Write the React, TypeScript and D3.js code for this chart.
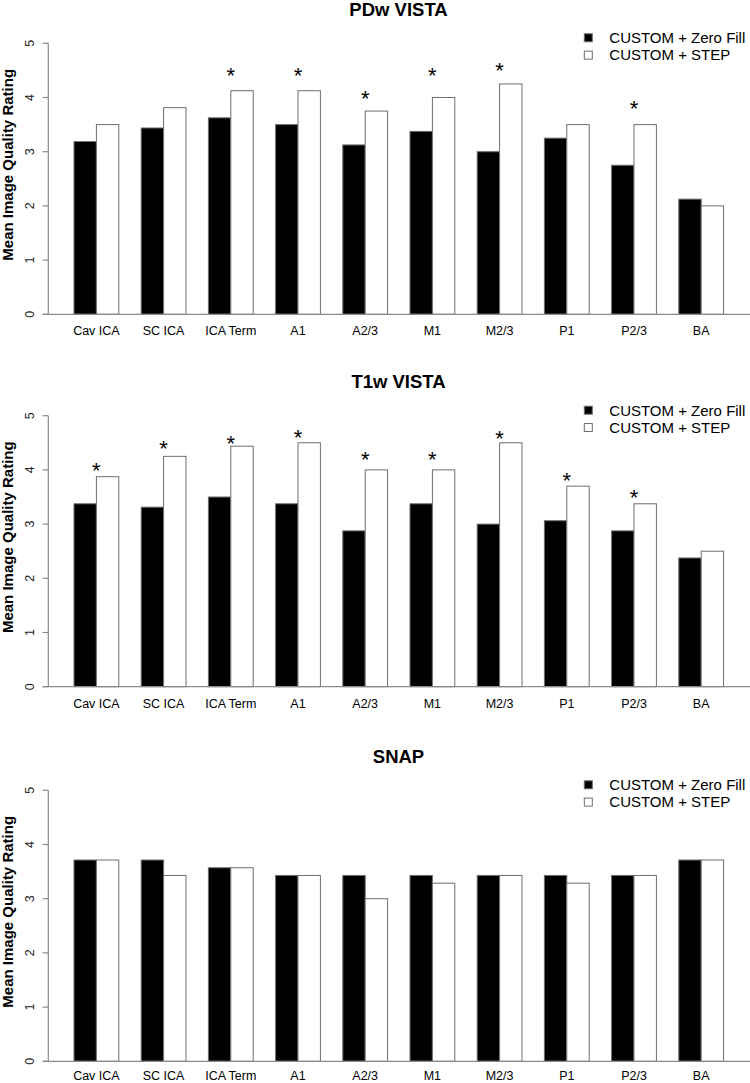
import React from "react";
import * as d3 from "d3";

const categories = ["Cav ICA", "SC ICA", "ICA Term", "A1", "A2/3", "M1", "M2/3", "P1", "P2/3", "BA"];
const seriesNames = ["CUSTOM + Zero Fill", "CUSTOM + STEP"];
const yTicks = [0, 1, 2, 3, 4, 5];

const panelTitles = ["PDw VISTA", "T1w VISTA", "SNAP"];

// PDw VISTA
const pdwZeroFill = [3.1875, 3.4375, 3.625, 3.5, 3.125, 3.375, 3.0, 3.25, 2.75, 2.125];
const pdwStep = [3.5, 3.8125, 4.125, 4.125, 3.75, 4.0, 4.25, 3.5, 3.5, 2.0];
const pdwStars = [null, null, 4.5, 4.49, 4.08, 4.49, 4.59, null, 3.89, null];

// T1w VISTA
const t1wZeroFill = [3.375, 3.3125, 3.5, 3.375, 2.875, 3.375, 3.0, 3.0625, 2.875, 2.375];
const t1wStep = [3.875, 4.25, 4.4375, 4.5, 4.0, 4.0, 4.5, 3.7, 3.375, 2.5];
const t1wStars = [4.09, 4.49, 4.58, 4.69, 4.29, 4.29, 4.68, 3.89, 3.58, null];

// SNAP
const snapZeroFill = [3.714, 3.714, 3.571, 3.429, 3.429, 3.429, 3.429, 3.429, 3.429, 3.714];
const snapStep = [3.714, 3.429, 3.571, 3.429, 3.0, 3.286, 3.429, 3.286, 3.429, 3.714];
const snapStars: (number | null)[] = [null, null, null, null, null, null, null, null, null, null];

const panels = [
  { title: panelTitles[0], zf: pdwZeroFill, st: pdwStep, stars: pdwStars, top: 43.3, bottom: 314.3 },
  { title: panelTitles[1], zf: t1wZeroFill, st: t1wStep, stars: t1wStars, top: 415.7, bottom: 686.7 },
  { title: panelTitles[2], zf: snapZeroFill, st: snapStep, stars: snapStars, top: 790.3, bottom: 1061.3 },
];

const FONT = "'Liberation Sans', Arial, Helvetica, sans-serif";
const AXIS_GRAY = "#8a8a8a";
const BAR_STROKE = "#6e6e6e";

const xGroup = d3.scaleBand<string>().domain(categories).range([74, 723.6]).paddingInner(1 / 3).paddingOuter(0);
const xInner = d3.scaleBand<string>().domain(["zf", "st"]).range([0, xGroup.bandwidth()]).padding(0);

function Panel({ p }: { p: (typeof panels)[number] }) {
  const y = d3.scaleLinear().domain([0, 5]).range([p.bottom, p.top]);
  const axisX = 48.3;
  const mid = (p.top + p.bottom) / 2;
  const legendTop = p.top - 9.5;
  const labelY = Math.min(p.bottom + 20.8, 1079.8);
  return (
    <g>
      <text x={398.5} y={p.top - 27.8} textAnchor="middle" fontFamily={FONT} fontWeight="bold" fontSize={18.5} fill="#000">
        {p.title}
      </text>
      {/* y-axis title */}
      <text
        transform={`translate(12.8,${mid - 14}) rotate(-90)`}
        textAnchor="middle"
        fontFamily={FONT}
        fontWeight="bold"
        fontSize={15}
        fill="#000"
      >
        Mean Image Quality Rating
      </text>
      {/* bars */}
      {categories.map((c, i) => {
        const gx = xGroup(c)!;
        return (
          <g key={c}>
            <rect
              x={gx + xInner("zf")!}
              y={y(p.zf[i])}
              width={xInner.bandwidth()}
              height={y(0) - y(p.zf[i])}
              fill="#000"
              stroke={BAR_STROKE}
              strokeWidth={1}
            />
            <rect
              x={gx + xInner("st")!}
              y={y(p.st[i])}
              width={xInner.bandwidth()}
              height={y(0) - y(p.st[i])}
              fill="#fff"
              stroke={BAR_STROKE}
              strokeWidth={1}
            />
            {p.stars[i] != null && (
              <text
                x={gx + xGroup.bandwidth() / 2}
                y={y(p.stars[i] as number) + 12.5}
                textAnchor="middle"
                fontFamily={FONT}
                fontSize={22}
                fill="#000"
              >
                *
              </text>
            )}
            <text
              x={gx + xGroup.bandwidth() / 2}
              y={labelY}
              textAnchor="middle"
              fontFamily={FONT}
              fontSize={12.5}
              fill="#000"
            >
              {c}
            </text>
          </g>
        );
      })}
      {/* x baseline */}
      <line x1={42.7} x2={750} y1={y(0)} y2={y(0)} stroke={AXIS_GRAY} strokeWidth={1.2} />
      {/* y axis */}
      <line x1={axisX} x2={axisX} y1={y(5)} y2={y(0)} stroke={AXIS_GRAY} strokeWidth={1.2} />
      {yTicks.map((t) => (
        <g key={t}>
          <line x1={42.7} x2={axisX} y1={y(t)} y2={y(t)} stroke={AXIS_GRAY} strokeWidth={1.2} />
          <text
            transform={`translate(34,${y(t)}) rotate(-90)`}
            textAnchor="middle"
            fontFamily={FONT}
            fontSize={12.5}
            fill="#222"
          >
            {t}
          </text>
        </g>
      ))}
      {/* legend */}
      {seriesNames.map((s, k) => (
        <g key={s}>
          <rect
            x={584.3}
            y={legendTop + k * 17.3}
            width={8}
            height={8}
            fill={k === 0 ? "#000" : "#fff"}
            stroke={BAR_STROKE}
            strokeWidth={1}
          />
          <text x={609.3} y={legendTop + 9.3 + k * 17.3} fontFamily={FONT} fontSize={15} fill="#000">
            {s}
          </text>
        </g>
      ))}
    </g>
  );
}

export default function App() {
  return (
    <svg
      width={750}
      height={1083}
      viewBox="0 0 750 1083"
      style={{ position: "absolute", left: 0, top: 0, background: "#fff" }}
    >
      <rect x={0} y={0} width={750} height={1083} fill="#fff" />
      {panels.map((p) => (
        <Panel key={p.title} p={p} />
      ))}
    </svg>
  );
}
